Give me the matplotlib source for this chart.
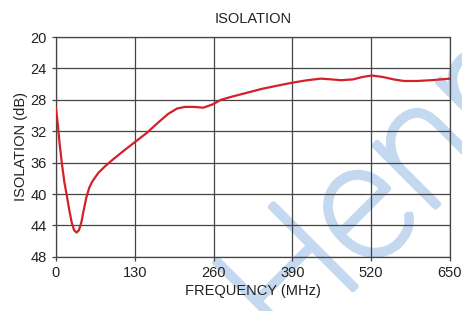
import matplotlib.pyplot as plt
import matplotlib.patheffects as pe

plt.rcParams['font.family'] = ['Liberation Sans', 'DejaVu Sans']

# frequency (MHz) and isolation (dB)
freq = [0, 3, 6, 10, 14, 18, 22, 26, 30, 34, 38, 42, 46, 50, 55, 60, 70, 82,
        94, 110, 130, 150, 170, 185, 200, 213, 228, 243, 258, 272, 290,
        315, 340, 365, 391, 415, 437, 455, 470, 490, 505, 521, 540, 557,
        574, 596, 619, 635, 650]
isolation = [29.0, 31.0, 33.5, 36.2, 38.5, 40.2, 42.0, 43.6, 44.6, 44.9, 44.6,
             43.6, 42.0, 40.5, 39.2, 38.4, 37.3, 36.4, 35.6, 34.6, 33.4,
             32.2, 30.8, 29.8, 29.1, 28.9, 28.9, 29.0, 28.6, 28.0, 27.6,
             27.1, 26.6, 26.2, 25.8, 25.5, 25.3, 25.4, 25.5, 25.4, 25.1,
             24.9, 25.1, 25.4, 25.6, 25.6, 25.5, 25.4, 25.3]

xticks = [0, 130, 260, 390, 520, 650]
yticks = [20, 24, 28, 32, 36, 40, 44, 48]

fig = plt.figure(figsize=(4.62, 3.11), dpi=100)
ax = fig.add_axes([0.121, 0.174, 0.853, 0.707])
ax.set_zorder(1)
ax.set_facecolor('none')

# watermark behind the chart
wm_color = '#c4d8f0'
fig.text(0.875, 0.43, "Henry", rotation=45, fontsize=118, color=wm_color,
         ha='center', va='center', zorder=0, family='Roboto',
         fontweight='light',
         path_effects=[pe.withStroke(linewidth=4, foreground=wm_color)])

ax.plot(freq, isolation, color='#d4202a', linewidth=1.6, zorder=3)

ax.set_xlim(0, 650)
ax.set_ylim(48, 20)
ax.set_xticks(xticks)
ax.set_yticks(yticks)
ax.grid(True, color='#444444', linewidth=0.9)
for s in ax.spines.values():
    s.set_color('#444444')
    s.set_linewidth(0.9)
ax.tick_params(colors='#444444', labelcolor='#222222', labelsize=10.5,
               length=3, width=0.9)

ax.set_title('ISOLATION', fontsize=10.5, color='#222222', pad=10)
ax.set_xlabel('FREQUENCY (MHz)', fontsize=10.5, color='#222222', labelpad=3)
ax.set_ylabel('ISOLATION (dB)', fontsize=10.5, color='#222222', labelpad=2)

fig.savefig('out.png', dpi=100)
